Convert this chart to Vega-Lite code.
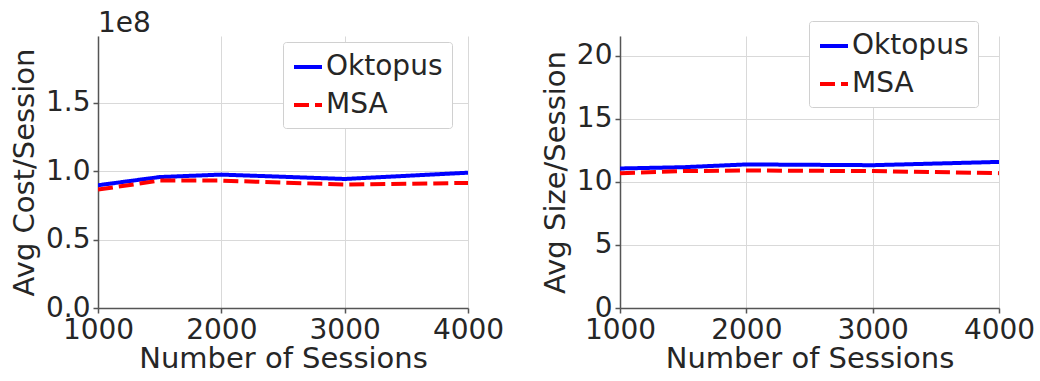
{
  "$schema": "https://vega.github.io/schema/vega-lite/v6.json",
  "background": "white",
  "padding": {"left": 10, "top": 10, "right": 5, "bottom": 0},
  "spacing": 37,
  "datasets": {
    "cost": [
      {"sessions": 1000, "method": "Oktopus", "value": 89800000},
      {"sessions": 1500, "method": "Oktopus", "value": 95800000},
      {"sessions": 2000, "method": "Oktopus", "value": 97600000},
      {"sessions": 3000, "method": "Oktopus", "value": 94400000},
      {"sessions": 4000, "method": "Oktopus", "value": 99000000},
      {"sessions": 1000, "method": "MSA", "value": 86600000},
      {"sessions": 1500, "method": "MSA", "value": 93200000},
      {"sessions": 2000, "method": "MSA", "value": 93200000},
      {"sessions": 3000, "method": "MSA", "value": 90300000},
      {"sessions": 4000, "method": "MSA", "value": 91500000}
    ],
    "size": [
      {"sessions": 1000, "method": "Oktopus", "value": 11.06},
      {"sessions": 1500, "method": "Oktopus", "value": 11.16},
      {"sessions": 2000, "method": "Oktopus", "value": 11.38},
      {"sessions": 3000, "method": "Oktopus", "value": 11.32},
      {"sessions": 4000, "method": "Oktopus", "value": 11.58},
      {"sessions": 1000, "method": "MSA", "value": 10.69},
      {"sessions": 1500, "method": "MSA", "value": 10.85},
      {"sessions": 2000, "method": "MSA", "value": 10.9},
      {"sessions": 3000, "method": "MSA", "value": 10.85},
      {"sessions": 4000, "method": "MSA", "value": 10.69}
    ]
  },
  "hconcat": [
    {
      "width": 370,
      "height": 272,
      "title": {"text": "1e8", "anchor": "start", "frame": "group", "fontSize": 28, "font": "DejaVu Sans", "fontWeight": "normal", "color": "#262626", "offset": -2},
      "data": {"name": "cost"},
      "mark": {"type": "line", "strokeWidth": 4, "clip": true},
      "encoding": {
        "x": {"field": "sessions", "type": "quantitative", "scale": {"domain": [1000, 4000]}, "axis": {"values": [1000, 2000, 3000, 4000], "format": "d", "title": "Number of Sessions"}},
        "y": {"field": "value", "type": "quantitative", "scale": {"domain": [0, 199000000]}, "axis": {"values": [0, 50000000, 100000000, 150000000], "labelExpr": "format(datum.value/1e8, '.1f')", "title": "Avg Cost/Session"}},
        "color": {"field": "method", "type": "nominal", "scale": {"domain": ["Oktopus", "MSA"], "range": ["#0000ff", "#ff0000"]}, "legend": {"title": null, "orient": "none", "legendX": 185, "legendY": 6}},
        "strokeDash": {"field": "method", "type": "nominal", "scale": {"domain": ["Oktopus", "MSA"], "range": [[1, 0], [15, 6]]}, "legend": {"title": null, "orient": "none", "legendX": 185, "legendY": 6}}
      }
    },
    {
      "width": 379,
      "height": 272,
      "data": {"name": "size"},
      "mark": {"type": "line", "strokeWidth": 4, "clip": true},
      "encoding": {
        "x": {"field": "sessions", "type": "quantitative", "scale": {"domain": [1000, 4000]}, "axis": {"values": [1000, 2000, 3000, 4000], "format": "d", "title": "Number of Sessions"}},
        "y": {"field": "value", "type": "quantitative", "scale": {"domain": [0, 21.56]}, "axis": {"values": [0, 5, 10, 15, 20], "title": "Avg Size/Session"}},
        "color": {"field": "method", "type": "nominal", "scale": {"domain": ["Oktopus", "MSA"], "range": ["#0000ff", "#ff0000"]}, "legend": {"title": null, "orient": "none", "legendX": 189, "legendY": -15}},
        "strokeDash": {"field": "method", "type": "nominal", "scale": {"domain": ["Oktopus", "MSA"], "range": [[1, 0], [15, 6]]}, "legend": {"title": null, "orient": "none", "legendX": 189, "legendY": -15}}
      }
    }
  ],
  "resolve": {"scale": {"color": "independent", "strokeDash": "independent"}, "legend": {"color": "independent", "strokeDash": "independent"}},
  "config": {
    "font": "DejaVu Sans",
    "view": {"stroke": null},
    "axis": {
      "labelFont": "DejaVu Sans", "labelFontSize": 28, "labelColor": "#262626",
      "titleFont": "DejaVu Sans", "titleFontSize": 29, "titleColor": "#262626", "titleFontWeight": "normal",
      "gridColor": "#d9d9d9", "gridWidth": 1,
      "domainColor": "#555555", "domainWidth": 1.5,
      "tickColor": "#555555", "tickSize": 5, "tickWidth": 1.5,
      "labelPadding": 3, "labelFlush": false, "labelOverlap": false
    },
    "axisY": {"titlePadding": 6},
    "axisX": {"titlePadding": 0},
    "legend": {
      "labelFont": "DejaVu Sans", "labelFontSize": 28, "labelColor": "#262626",
      "symbolType": "stroke", "symbolStrokeWidth": 4, "symbolSize": 784,
      "strokeColor": "#d0d0d0", "fillColor": "white", "padding": 9, "cornerRadius": 3,
      "rowPadding": 8, "labelOffset": 2
    }
  }
}
